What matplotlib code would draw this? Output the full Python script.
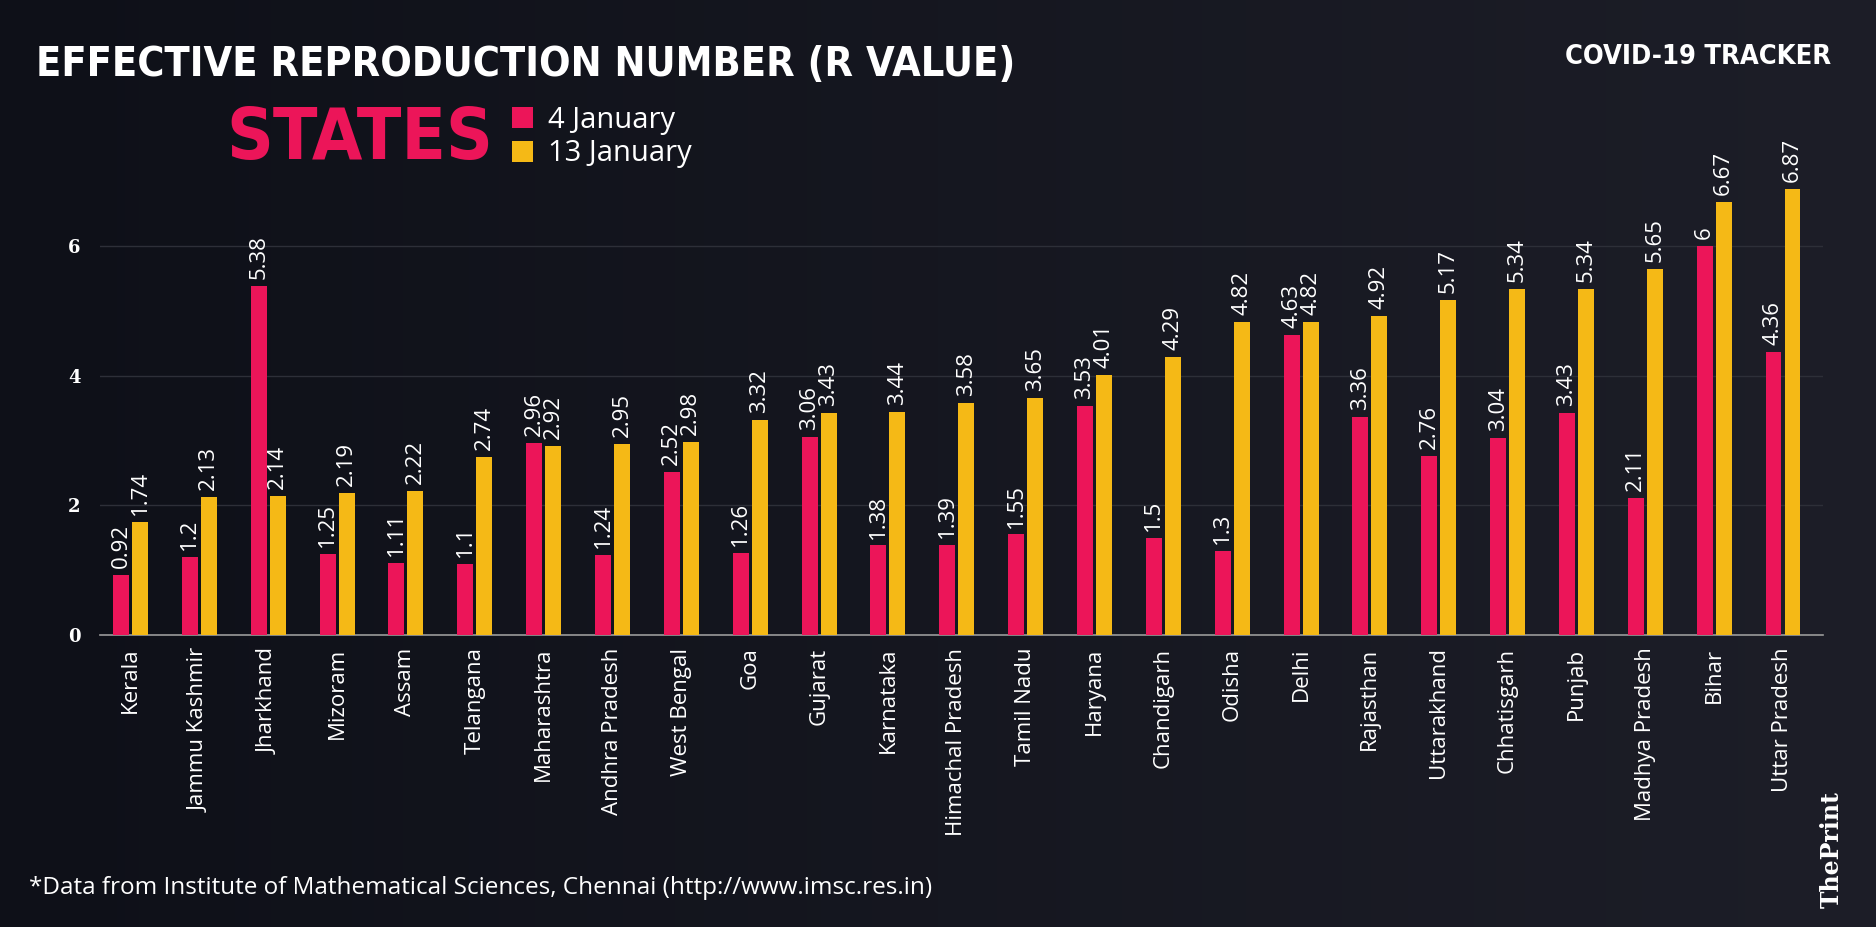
import matplotlib
matplotlib.use("Agg")
import matplotlib.pyplot as plt
import numpy as np
from matplotlib.colors import LinearSegmentedColormap

# data
STATES = [
    "Kerala", "Jammu Kashmir", "Jharkhand", "Mizoram", "Assam", "Telangana",
    "Maharashtra", "Andhra Pradesh", "West Bengal", "Goa", "Gujarat",
    "Karnataka", "Himachal Pradesh", "Tamil Nadu", "Haryana", "Chandigarh",
    "Odisha", "Delhi", "Rajasthan", "Uttarakhand", "Chhatisgarh", "Punjab",
    "Madhya Pradesh", "Bihar", "Uttar Pradesh",
]
R_JAN4 = [0.92, 1.2, 5.38, 1.25, 1.11, 1.1, 2.96, 1.24, 2.52, 1.26, 3.06,
          1.38, 1.39, 1.55, 3.53, 1.5, 1.3, 4.63, 3.36, 2.76, 3.04, 3.43,
          2.11, 6, 4.36]
R_JAN13 = [1.74, 2.13, 2.14, 2.19, 2.22, 2.74, 2.92, 2.95, 2.98, 3.32, 3.43,
           3.44, 3.58, 3.65, 4.01, 4.29, 4.82, 4.82, 4.92, 5.17, 5.34, 5.34,
           5.65, 6.67, 6.87]
SERIES_LABELS = ["4 January", "13 January"]
Y_TICKS = [0, 2, 4, 6]

PINK = "#ec1559"
YELLOW = "#f5b916"
W, H = 1876, 927
HEAVY = ["Liberation Sans Narrow", "DejaVu Sans"]

fig = plt.figure(figsize=(W / 100, H / 100), dpi=100)
renderer = fig.canvas.get_renderer()


def fit_width(txt, target_px):
    # scale font size so the text spans the width seen in the reference
    w = txt.get_window_extent(renderer).width
    txt.set_fontsize(txt.get_fontsize() * target_px / w)


# dark background, slightly lighter to the right
bg = fig.add_axes([0, 0, 1, 1], zorder=-10)
grad = np.linspace(0, 1, 256).reshape(1, -1)
cmap = LinearSegmentedColormap.from_list("bg", ["#0e1018", "#1d1e28"])
bg.imshow(grad, aspect="auto", cmap=cmap, extent=[0, 1, 0, 1])
bg.axis("off")

ax = fig.add_axes([100 / W, 1 - 635 / H, (1823 - 100) / W, (635 - 168) / H])
ax.patch.set_alpha(0)

x = np.arange(len(STATES))
bw = 0.232
off = 0.138
b1 = ax.bar(x - off, R_JAN4, bw, color=PINK, label=SERIES_LABELS[0], zorder=3)
b2 = ax.bar(x + off, R_JAN13, bw, color=YELLOW, label=SERIES_LABELS[1], zorder=3)

for bars in (b1, b2):
    for rect, v in zip(bars, bars.datavalues):
        ax.annotate(f"{v:g}", (rect.get_x() + rect.get_width() / 2, v),
                    xytext=(0, 5), textcoords="offset points",
                    rotation=90, ha="center", va="bottom",
                    color="white", fontsize=16, family="Open Sans")

ax.set_xlim(-0.443, len(STATES) - 1 + 0.581)
ax.set_ylim(0, 7.2)
ax.set_xticks(x)
ax.set_xticklabels(STATES, rotation=90, color="white", fontsize=16,
                   family="Open Sans")
ax.set_yticks(Y_TICKS)
ax.set_yticklabels([str(t) for t in Y_TICKS], color="white", fontsize=13,
                   family="DejaVu Serif", fontweight="bold")
ax.tick_params(axis="x", length=0, pad=9)
ax.tick_params(axis="y", length=0, pad=14)
ax.yaxis.grid(True, color="#2d2f38", linewidth=1)
ax.set_axisbelow(True)
for s in ("top", "right", "left"):
    ax.spines[s].set_visible(False)
ax.spines["bottom"].set_color("#9a9a9a")
ax.spines["bottom"].set_linewidth(1.2)

# titles
title = fig.text(36 / W, 1 - 65 / H, "EFFECTIVE REPRODUCTION NUMBER (R VALUE)",
                 color="white", fontsize=36, family=HEAVY, fontweight="heavy",
                 fontstretch="condensed", va="center", ha="left")
fit_width(title, 981)
tracker = fig.text(1831 / W, 1 - 57 / H, "COVID-19 TRACKER", color="white",
                   fontsize=22, family=HEAVY, fontweight="heavy",
                   fontstretch="condensed", va="center", ha="right")
fit_width(tracker, 265)
states_txt = fig.text(226 / W, 1 - 139 / H, "STATES", color=PINK, fontsize=50,
                      family=HEAVY, fontweight="heavy",
                      fontstretch="condensed", va="center", ha="left")
fit_width(states_txt, 267)

leg = ax.legend(handles=[b1, b2], loc="upper left",
                bbox_to_anchor=(512 / W, 1 - 106 / H),
                bbox_transform=fig.transFigure, frameon=False,
                prop={"family": "Open Sans", "size": 21},
                handlelength=0.72, handleheight=0.72, handletextpad=0.5,
                labelspacing=0.15, borderpad=0, borderaxespad=0)
for t in leg.get_texts():
    t.set_color("white")

foot = fig.text(29 / W, 1 - 888 / H,
                "*Data from Institute of Mathematical Sciences, Chennai "
                "(http://www.imsc.res.in)",
                color="white", fontsize=16, family="Open Sans",
                va="center", ha="left")
fit_width(foot, 905)
fig.text(1832 / W, 1 - 850 / H, "ThePrint", color="white", fontsize=17,
         family="DejaVu Serif", fontweight="bold", rotation=90,
         va="center", ha="center")

fig.savefig("out.png", dpi=100)
